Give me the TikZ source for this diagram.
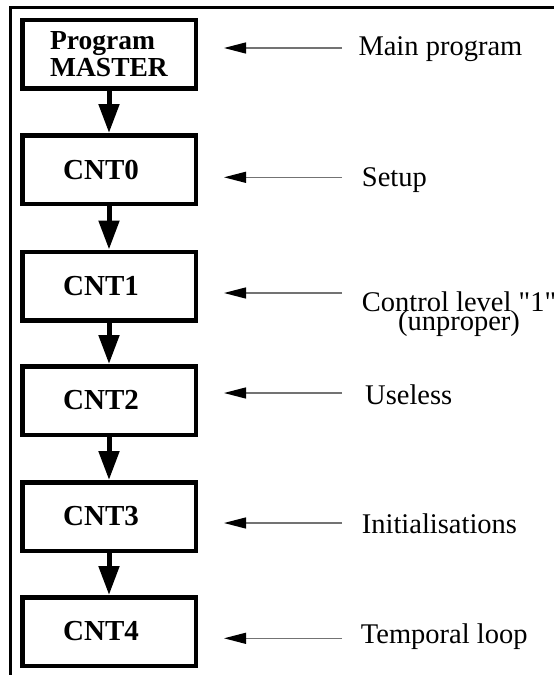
\documentclass[tikz,border=0pt]{standalone}
\usepackage{fontspec}
\setmainfont{Liberation Serif}[Ligatures=TeXOff]
\usetikzlibrary{arrows.meta}
\begin{document}
\begin{tikzpicture}[x=1pt,y=-1pt,
  cbox/.style={draw, line width=4.5pt, minimum width=173.5pt, minimum height=68.5pt,
    inner sep=0pt, font=\fontsize{29}{29}\selectfont\bfseries},
  flow/.style={line width=5pt, -{Triangle[width=20pt,length=29pt]}},
  side/.style={draw=black!55, line width=1.3pt,
    -{Triangle[width=11pt,length=22pt,color=black]}, shorten >=26pt},
  lbl/.style={anchor=base west, inner sep=0pt, font=\fontsize{28.5}{30}\selectfont},
  lblc/.style={anchor=base, inner sep=0pt, font=\fontsize{28.5}{30}\selectfont}]
\useasboundingbox (0,0) rectangle (554,675);
% frame
\draw[line width=3.3pt] (9.35,7.7) -- (554,7.7);
\draw[line width=2.7pt] (10.7,6.05) -- (10.7,675);
% boxes
\node[cbox, align=left, font=\fontsize{27.5}{27.6}\selectfont\bfseries] (m0) at (109,54) {Program\\MASTER};
\node[cbox] (c0) at (109,169.5) {\hspace*{-16pt}CNT0};
\node[cbox] (c1) at (109,286) {\hspace*{-16pt}CNT1};
\node[cbox] (c2) at (109,400.5) {\hspace*{-16pt}CNT2};
\node[cbox] (c3) at (109,516.5) {\hspace*{-16pt}CNT3};
\node[cbox] (c4) at (109,631.5) {\hspace*{-16pt}CNT4};
% flow arrows
\draw[flow] (m0) -- (c0);
\draw[flow] (c0) -- (c1);
\draw[flow] (c1) -- (c2);
\draw[flow] (c2) -- (c3);
\draw[flow] (c3) -- (c4);
% side arrows
\coordinate (s0) at (342,48);
\coordinate (s1) at (342,177.3);
\coordinate (s2) at (342,293);
\coordinate (s3) at (342,393);
\coordinate (s4) at (342,523);
\coordinate (s5) at (342,638.3);
\draw[side] (s0) -- (m0.east |- s0);
\draw[side] (s1) -- (c0.east |- s1);
\draw[side] (s2) -- (c1.east |- s2);
\draw[side] (s3) -- (c2.east |- s3);
\draw[side] (s4) -- (c3.east |- s4);
\draw[side] (s5) -- (c4.east |- s5);
% labels
\node[lbl] (l0) at (358.3,55) {Main program};
\node[lbl] (l1) at (361.7,186.7) {Setup};
\node[lbl] (l2) at (361.7,311.7) {Control level "1"};
\node[lblc] (l2b) at ([yshift=-18.5pt]l2.base) {(unproper)};
\node[lbl] (l3) at (365,404) {Useless};
\node[lbl] (l4) at (361.7,533.3) {Initialisations};
\node[lbl] (l5) at (360.7,643.3) {Temporal loop};
\end{tikzpicture}
\end{document}
